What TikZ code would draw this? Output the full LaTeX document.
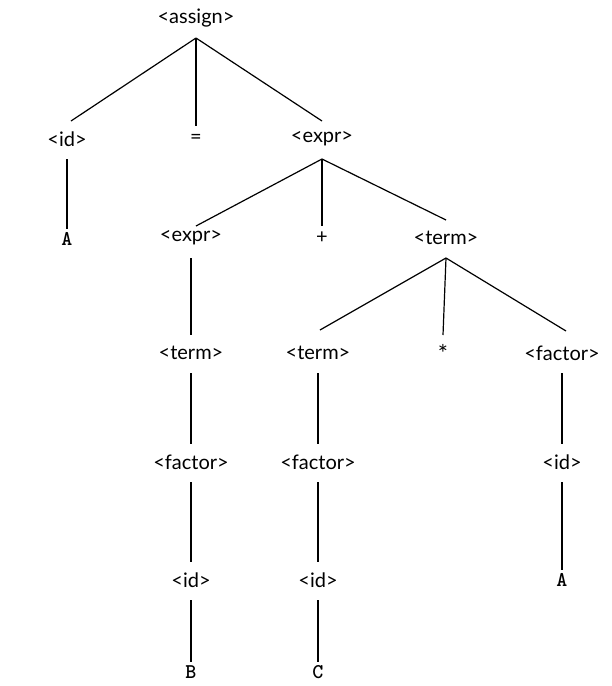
\documentclass[tikz,border=0pt]{standalone}
\usepackage{fontspec}
\setmainfont{Lato}
\begin{document}
\begin{tikzpicture}[x=1pt,y=-1pt,
  nt/.style={font=\fontsize{20}{20}\selectfont, inner sep=0pt},
  tm/.style={font={\ttfamily\bfseries\fontsize{21}{21}\selectfont}, inner sep=0pt},
  edge/.style={line width=1.2pt, black}]
\useasboundingbox (0,0) rectangle (612,686);
% row 0
\node[nt] (assign) at (196,18) {<assign>};
% row 1
\node[nt] (id1) at (67,139) {<id>};
\node[nt] (eq) at (196,139) {=};
\node[nt] (expr1) at (322,139) {<expr>};
% row 2
\node[tm] (A1) at (67,239) {A};
\node[nt] (expr2) at (191,238) {<expr>};
\node[nt] (plus) at (322,238) {+};
\node[nt] (term1) at (446,238) {<term>};
% row 3
\node[nt] (term2) at (191,353) {<term>};
\node[nt] (term3) at (318,353) {<term>};
\node[nt] (star) at (443,353) {\raisebox{-5pt}{\fontsize{24}{24}\selectfont *}};
\node[nt] (factor1) at (562,353) {<factor>};
% row 4
\node[nt] (factor2) at (191,462) {<factor>};
\node[nt] (factor3) at (318,462) {<factor>};
\node[nt] (id2) at (562,462) {<id>};
% row 5
\node[nt] (id3) at (191,580) {<id>};
\node[nt] (id4) at (318,580) {<id>};
\node[tm] (A2) at (562,580) {A};
% row 6
\node[tm] (B) at (191,672) {B};
\node[tm] (C) at (318,672) {C};
% edges
\tikzset{
  from/.style={yshift=-20pt},
  to/.style={yshift=18pt},
  toterm/.style={yshift=10pt}}
\draw[edge] ([from]assign.center) -- ([to,xshift=4pt]id1.center);
\draw[edge] ([from]assign.center) -- ([to,yshift=-5pt]eq.center);
\draw[edge] ([from]assign.center) -- ([to]expr1.center);
\draw[edge] ([from]id1.center) -- ([toterm]A1.center);
\draw[edge] ([from]expr1.center) -- ([to,xshift=5pt,yshift=-6pt]expr2.center);
\draw[edge] ([from]expr1.center) -- ([to,yshift=-6pt]plus.center);
\draw[edge] ([from]expr1.center) -- ([to]term1.center);
\draw[edge] ([from]expr2.center) -- ([to]term2.center);
\draw[edge] ([from]term1.center) -- ([to,xshift=2pt,yshift=5pt]term3.center);
\draw[edge] ([from]term1.center) -- ([to]star.center);
\draw[edge] ([from]term1.center) -- ([to,xshift=4pt,yshift=4pt]factor1.center);
\draw[edge] ([from]term2.center) -- ([to]factor2.center);
\draw[edge] ([from]term3.center) -- ([to]factor3.center);
\draw[edge] ([from]factor1.center) -- ([to]id2.center);
\draw[edge] ([from]factor2.center) -- ([to]id3.center);
\draw[edge] ([from]factor3.center) -- ([to]id4.center);
\draw[edge] ([from]id2.center) -- ([toterm]A2.center);
\draw[edge] ([from]id3.center) -- ([toterm]B.center);
\draw[edge] ([from]id4.center) -- ([toterm]C.center);
\end{tikzpicture}
\end{document}
